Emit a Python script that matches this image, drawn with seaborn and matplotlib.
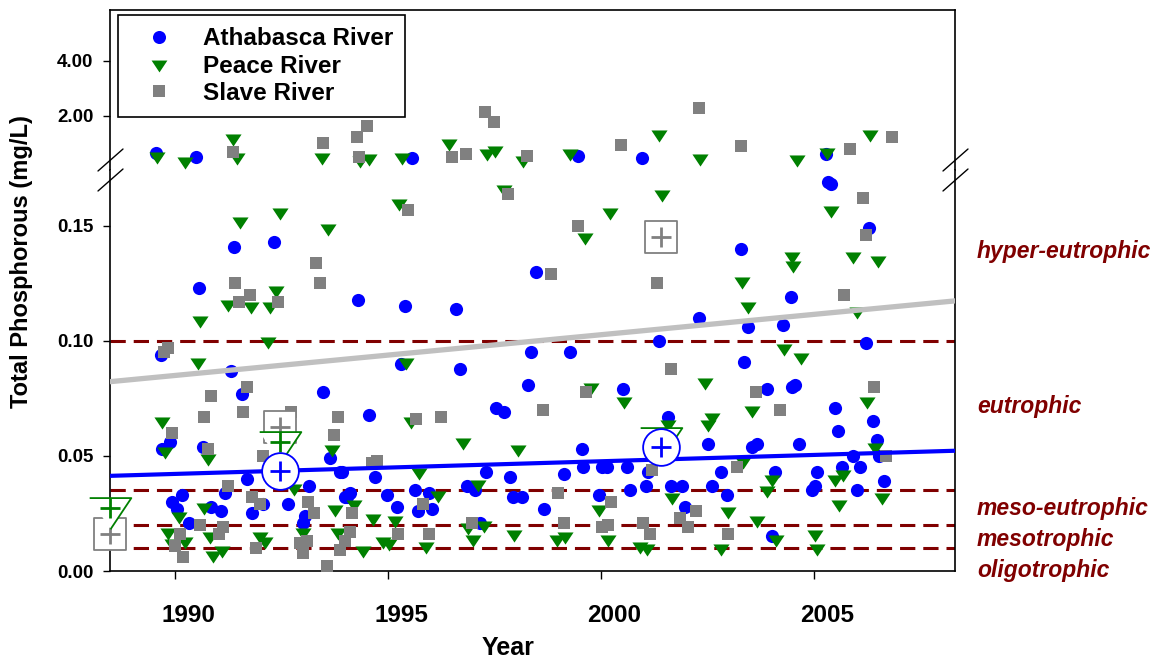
import numpy as np
import pandas as pd
import matplotlib
matplotlib.use("Agg")
import matplotlib.pyplot as plt
import matplotlib.transforms as mtransforms
from matplotlib.lines import Line2D
import seaborn as sns

sns.set_style("ticks")
plt.rcParams['font.family'] = ['Liberation Sans', 'DejaVu Sans']
plt.rcParams['font.weight'] = 'bold'
for k in ('text.color', 'axes.labelcolor', 'xtick.color', 'ytick.color', 'axes.edgecolor'):
    plt.rcParams[k] = 'black'

# ---------------- data ----------------
ath_year = [1989.55, 1990.49, 1995.56, 1999.47, 2000.97, 2005.27,
            1991.38, 1992.32, 1990.56, 1989.67, 1991.31, 1991.57, 1993.46, 1989.88, 1989.70, 1990.66,
            1993.64, 1993.87, 1991.68, 1991.16, 1990.16, 1989.92, 1990.04, 1990.33, 1990.85, 1991.08,
            1992.07, 1991.80, 1992.65, 1993.15, 1993.04, 1993.01, 1993.99,
            1998.47, 1994.30, 1995.40, 1996.60, 1995.31, 1996.69, 1998.35, 1999.27, 1998.28, 1997.53,
            1997.73, 1994.56, 1993.91, 1994.69, 1997.29, 1997.86, 1999.12, 1996.85, 1997.04, 1994.11,
            1994.03, 1994.97, 1995.63, 1995.95, 1995.20, 1995.71, 1996.04, 1997.94, 1998.14, 1998.67,
            1997.16,
            2003.29, 2002.30, 2003.44, 2001.35, 2003.36, 2000.52, 2001.56, 2002.52, 1999.55, 2003.54,
            2003.65, 1999.58, 2000.02, 2000.13, 2000.60, 2001.11, 2002.82, 1999.94, 2000.69, 2001.06,
            2001.64, 2001.91, 2002.60, 2002.96, 2001.97,
            2005.32, 2005.39, 2006.30, 2004.45, 2004.28, 2006.22, 2004.55, 2004.48, 2003.89, 2005.50,
            2006.38, 2005.57, 2006.47, 2004.65, 2006.53, 2005.91, 2004.08, 2005.08, 2005.65, 2006.08,
            2004.95, 2005.02, 2006.00, 2006.64, 2004.01]
ath_tp = [0.64, 0.51, 0.48, 0.56, 0.48, 0.61,
          0.141, 0.143, 0.123, 0.094, 0.087, 0.077, 0.078, 0.056, 0.053, 0.054,
          0.049, 0.043, 0.040, 0.034, 0.033, 0.030, 0.027, 0.021, 0.028, 0.026,
          0.029, 0.025, 0.029, 0.037, 0.024, 0.021, 0.032,
          0.130, 0.118, 0.115, 0.114, 0.090, 0.088, 0.095, 0.095, 0.081, 0.071,
          0.069, 0.068, 0.043, 0.041, 0.043, 0.041, 0.042, 0.037, 0.035, 0.034,
          0.032, 0.033, 0.035, 0.034, 0.028, 0.026, 0.027, 0.032, 0.032, 0.027,
          0.021,
          0.140, 0.110, 0.106, 0.100, 0.091, 0.079, 0.067, 0.055, 0.053, 0.054,
          0.055, 0.045, 0.045, 0.045, 0.045, 0.043, 0.043, 0.033, 0.035, 0.037,
          0.037, 0.037, 0.037, 0.033, 0.028,
          0.169, 0.168, 0.149, 0.119, 0.107, 0.099, 0.081, 0.080, 0.079, 0.071,
          0.065, 0.061, 0.057, 0.055, 0.050, 0.050, 0.043, 0.043, 0.045, 0.045,
          0.035, 0.037, 0.035, 0.039, 0.015]

peace_year = [1989.58, 1990.23, 1991.35, 1991.46, 1993.44, 1994.33, 1994.54, 1995.32, 1996.42, 1997.32,
              1997.51, 1998.16, 1999.26, 2001.36, 2002.32, 2004.61, 2005.30, 2006.31,
              1991.53, 1992.45, 1993.60, 1991.23, 1991.78, 1992.36, 1992.23, 1990.59, 1992.19, 1990.53,
              1989.69, 1989.77, 1990.77, 1993.68, 1992.80, 1990.09, 1990.68, 1993.76, 1989.84, 1989.92,
              1990.23, 1990.82, 1990.90, 1991.10, 1992.00, 1992.11, 1993.01, 1993.83,
              1997.71, 1995.26, 1995.42, 1995.54, 1996.75, 1998.04, 1995.73, 1997.12, 1996.17, 1994.19,
              1994.65, 1995.15, 1997.24, 1996.88, 1994.89, 1995.01, 1994.40, 1995.89, 1996.99, 1997.96,
              1998.96, 1999.15,
              2001.44, 2000.21, 1999.62, 2003.30, 2003.46, 2002.44, 1999.77, 2000.55, 2003.54, 2001.58,
              2002.60, 2002.52, 2003.34, 2001.66, 1999.96, 2002.97, 2003.65, 2000.16, 2000.92, 2001.07,
              2002.82,
              2005.40, 2004.48, 2004.50, 2005.92, 2006.51, 2006.02, 2004.30, 2004.69, 2006.25, 2006.42,
              2004.02, 2005.49, 2005.69, 2003.89, 2005.59, 2006.59, 2004.11, 2005.02, 2005.08]
peace_tp = [0.56, 0.36, 1.21, 0.52, 0.52, 0.40, 0.46, 0.52, 1.01, 0.64,
            0.76, 0.40, 0.64, 1.33, 0.46, 0.43, 0.68, 1.33,
            0.152, 0.156, 0.149, 0.116, 0.115, 0.122, 0.115, 0.109, 0.100, 0.091,
            0.065, 0.052, 0.049, 0.053, 0.036, 0.024, 0.028, 0.027, 0.017, 0.012,
            0.013, 0.015, 0.007, 0.009, 0.015, 0.013, 0.017, 0.017,
            0.166, 0.160, 0.091, 0.065, 0.056, 0.053, 0.043, 0.038, 0.033, 0.029,
            0.023, 0.022, 0.020, 0.019, 0.013, 0.012, 0.009, 0.011, 0.014, 0.016,
            0.014, 0.015,
            0.164, 0.156, 0.145, 0.126, 0.115, 0.082, 0.080, 0.074, 0.070, 0.064,
            0.067, 0.064, 0.048, 0.032, 0.027, 0.026, 0.022, 0.014, 0.011, 0.010,
            0.010,
            0.157, 0.137, 0.133, 0.137, 0.135, 0.113, 0.097, 0.093, 0.074, 0.054,
            0.040, 0.040, 0.042, 0.035, 0.029, 0.032, 0.014, 0.016, 0.010]

slave_year = [1991.35, 1993.48, 1994.50, 1994.27, 1994.32, 1996.51, 1996.82, 1997.28, 1997.49, 1998.26,
              2000.47, 2002.30, 2003.29, 2005.85, 2006.82,
              1993.30, 1993.40, 1991.41, 1991.76, 1991.51, 1992.41, 1989.84, 1989.73, 1991.68, 1990.85,
              1991.59, 1990.67, 1993.83, 1992.72, 1989.92, 1993.74, 1990.78, 1992.07, 1991.25, 1991.81,
              1992.00, 1993.13, 1993.25, 1990.59, 1990.12, 1990.00, 1990.18, 1991.02, 1991.13, 1991.90,
              1992.93, 1993.01, 1993.09, 1993.87, 1993.56,
              1997.82, 1995.46, 1998.82, 1998.64, 1995.66, 1996.23, 1994.73, 1994.62, 1995.81, 1999.00,
              1994.16, 1996.98, 1999.13, 1994.11, 1993.99, 1995.24, 1995.95,
              1999.47, 2001.31, 2001.64, 1999.64, 2003.64, 2001.20, 2003.19, 2000.23, 2002.22, 2000.02,
              2000.17, 2000.98, 2001.15, 2001.85, 2002.05, 2002.99,
              2006.16, 2006.22, 2005.70, 2006.41, 2004.19, 2006.69]
slave_tp = [0.68, 1.01, 1.65, 1.23, 0.50, 0.52, 0.62, 2.13, 1.79, 0.55,
            0.95, 2.28, 0.92, 0.80, 1.23,
            0.134, 0.125, 0.125, 0.120, 0.117, 0.117, 0.097, 0.095, 0.080, 0.076,
            0.069, 0.067, 0.067, 0.069, 0.060, 0.059, 0.053, 0.050, 0.037, 0.032,
            0.029, 0.030, 0.025, 0.020, 0.016, 0.011, 0.006, 0.016, 0.019, 0.010,
            0.012, 0.008, 0.013, 0.009, 0.002,
            0.164, 0.157, 0.129, 0.070, 0.066, 0.067, 0.048, 0.047, 0.029, 0.034,
            0.025, 0.021, 0.021, 0.017, 0.013, 0.016, 0.016,
            0.150, 0.125, 0.088, 0.078, 0.078, 0.044, 0.045, 0.030, 0.026, 0.019,
            0.020, 0.021, 0.016, 0.023, 0.019, 0.016,
            0.162, 0.146, 0.120, 0.080, 0.070, 0.050]

# period means (large open symbols)
mean_year = [1988.47, 1992.45, 2001.40]
ath_mean = [np.nan, 0.0435, 0.054]
peace_mean = [0.0273, 0.0562, 0.058]
slave_mean = [0.016, 0.0627, 0.145]

# trend lines: (value at 1990, slope per year)
ath_trend = (0.0422, 0.00055)
slave_trend = (0.0850, 0.00177)

# trophic thresholds and class labels
thresholds = [0.10, 0.035, 0.020, 0.010]
trophic_labels = ['hyper-eutrophic', 'eutrophic', 'meso-eutrophic', 'mesotrophic', 'oligotrophic']
trophic_label_pos = [0.1387, 0.0713, 0.0270, 0.0135, 0.0004]

series_names = ['Athabasca River', 'Peace River', 'Slave River']
x_ticks = [1990, 1995, 2000, 2005]
y_ticks_low = [0.00, 0.05, 0.10, 0.15]
y_ticks_high = [2.00, 4.00]

# ---------------- styling ----------------
BLUE, GREEN, GRAY = '#0000FF', '#008000', '#808080'
DRED, LGRAY = '#800000', '#C0C0C0'
TRI = [(-1, 0.5), (1, 0.5), (0, -1)]  # down triangle centred on its centroid

XLIM = (1988.47, 2008.31)
LOW_LIM = (0.0, 0.1743)
HIGH_LIM = (0.036, 5.85)
BREAK = 0.175

FW, FH = 1162, 660
fig = plt.figure(figsize=(FW / 100, FH / 100), dpi=100)
L, W = 110 / FW, 845 / FW
ax_top = fig.add_axes([L, 1 - 170 / FH, W, 160 / FH])
ax_bot = fig.add_axes([L, 1 - 571 / FH, W, 401 / FH])

series = [
    (ath_year, ath_tp, BLUE, 'o', 90, ath_mean, 700),
    (peace_year, peace_tp, GREEN, TRI, 135, peace_mean, 900),
    (slave_year, slave_tp, GRAY, 's', 74, slave_mean, 560),
]

for (yr, tp, col, mk, sz, mean, bsz), name in zip(series, series_names):
    df = pd.DataFrame({'year': yr, 'tp': tp})
    hi = df[df.tp > BREAK]
    lo = df[df.tp <= BREAK]
    sns.scatterplot(data=hi, x='year', y='tp', ax=ax_top, color=col, marker=mk, s=sz,
                    linewidth=0, clip_on=False, zorder=3, legend=False)
    sns.scatterplot(data=lo, x='year', y='tp', ax=ax_bot, color=col, marker=mk, s=sz,
                    linewidth=0, zorder=3, legend=False)

# trend lines
xx = np.array(XLIM)
sns.lineplot(x=xx, y=slave_trend[0] + slave_trend[1] * (xx - 1990), ax=ax_bot,
             color=LGRAY, linewidth=3.8, zorder=4)
sns.lineplot(x=xx, y=ath_trend[0] + ath_trend[1] * (xx - 1990), ax=ax_bot,
             color=BLUE, linewidth=3.0, zorder=4)

# trophic thresholds
for t in thresholds:
    ax_bot.axhline(t, color=DRED, linewidth=2.2, linestyle=(0, (5, 2.6)), zorder=2)

# large open mean symbols (slave below, peace, athabasca on top)
for (yr, tp, col, mk, sz, mean, bsz), z in zip(series[::-1], [6, 7, 8]):
    md = pd.DataFrame({'year': mean_year, 'tp': mean}).dropna()
    sns.scatterplot(data=md, x='year', y='tp', ax=ax_bot, marker=mk, s=bsz,
                    facecolor='white', edgecolor=col, linewidth=1.3, clip_on=False,
                    zorder=z, legend=False)
    ax_bot.scatter(md.year, md.tp, marker='+', s=190, color=col, linewidths=2.0,
                   clip_on=False, zorder=z + 0.5)

# axes setup
for ax in (ax_top, ax_bot):
    ax.set_xlim(XLIM)
    for sp in ax.spines.values():
        sp.set_linewidth(1.2)
        sp.set_color('black')
    ax.set_xlabel('')
    ax.set_ylabel('')
    ax.tick_params(axis='y', direction='out', length=5, width=1.0, labelsize=13.5, pad=7,
                   colors='black')

ax_top.set_ylim(HIGH_LIM)
ax_top.spines['bottom'].set_visible(False)
ax_top.set_xticks([])
ax_top.set_yticks(y_ticks_high)
ax_top.set_yticklabels([f'{v:.2f}' for v in y_ticks_high])

ax_bot.set_ylim(LOW_LIM)
ax_bot.spines['top'].set_visible(False)
ax_bot.set_yticks(y_ticks_low)
ax_bot.set_yticklabels([f'{v:.2f}' for v in y_ticks_low])
ax_bot.set_xticks(x_ticks)
ax_bot.set_xticklabels([str(v) for v in x_ticks])
ax_bot.tick_params(axis='x', direction='out', length=6, width=1.0, labelsize=17.5, pad=18,
                   colors='black')
shift = mtransforms.ScaledTranslation(13 / 100, 0, fig.dpi_scale_trans)
for lab in ax_bot.get_xticklabels():
    lab.set_transform(lab.get_transform() + shift)

ax_bot.set_xlabel('Year', fontsize=18, fontweight='bold', va='center', color='black')
ax_bot.xaxis.set_label_coords(0.471, -0.192)
fig.text(22 / FW, 1 - 262 / FH, 'Total Phosphorous (mg/L)', rotation=90, ha='center',
         va='center', fontsize=17, fontweight='bold', color='black')

# trophic labels at right
trans = mtransforms.blended_transform_factory(ax_bot.transAxes, ax_bot.transData)
for lab, pos in zip(trophic_labels, trophic_label_pos):
    ax_bot.text(1.026, pos, lab, transform=trans, ha='left', va='center', color=DRED,
                fontsize=16.5, fontweight='bold', fontstyle='italic', clip_on=False)

# axis break marks
for xp in (110, 955):
    for yp in (160, 180):
        fig.add_artist(Line2D([(xp - 12) / FW, (xp + 13) / FW],
                              [1 - (yp + 11) / FH, 1 - (yp - 11) / FH],
                              color='black', linewidth=1.0))

# legend
handles = [
    Line2D([], [], linestyle='none', marker='o', color=BLUE, markersize=9.4, markeredgewidth=0),
    Line2D([], [], linestyle='none', marker=TRI, color=GREEN, markersize=11.4, markeredgewidth=0),
    Line2D([], [], linestyle='none', marker='s', color=GRAY, markersize=8.5, markeredgewidth=0),
]
leg = ax_top.legend(handles, series_names, loc='upper left',
                    bbox_to_anchor=(118 / FW, 1 - 15 / FH), bbox_transform=fig.transFigure,
                    borderaxespad=0, fontsize=17.5, frameon=True, fancybox=False, framealpha=1,
                    handlelength=2.4, handletextpad=0.6, labelspacing=0.18, borderpad=0.5)
leg.get_frame().set_edgecolor('black')
leg.get_frame().set_linewidth(1.2)
leg.set_zorder(20)
for t in leg.get_texts():
    t.set_color('black')

fig.savefig('out.png', dpi=100)
